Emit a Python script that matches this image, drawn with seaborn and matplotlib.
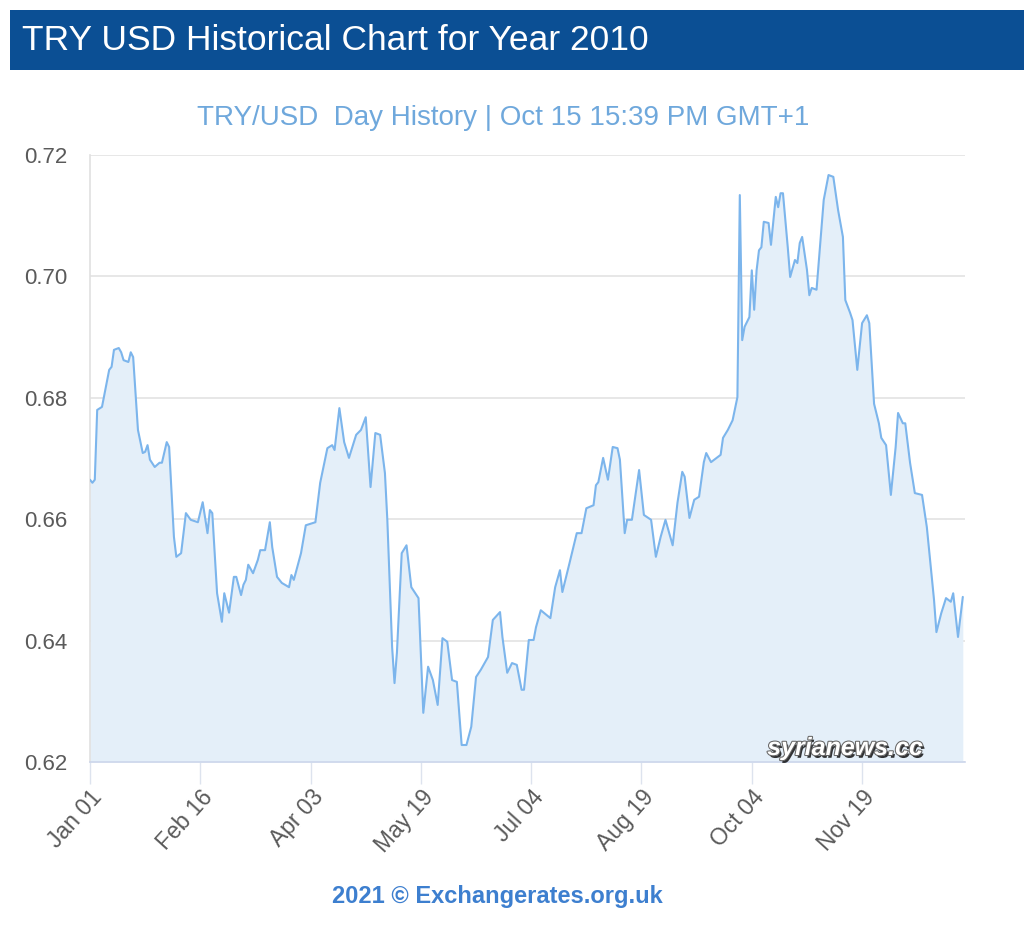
import matplotlib
matplotlib.use("Agg")
import matplotlib.pyplot as plt
import matplotlib.patheffects as pe
from matplotlib.patches import Rectangle
from matplotlib import font_manager
import seaborn as sns
import pandas as pd

# ---- data (day offset from 2010-01-01, TRY/USD rate) ----
day_offset = [0, 1, 2, 3, 5, 8, 9, 10, 12, 13, 14, 16, 17, 18, 20, 22, 23, 24, 25, 27,
              29, 30, 32, 33, 35, 36, 38, 40, 42, 45, 47, 49, 50, 51, 53, 55, 56, 58, 60, 61,
              63, 64, 65, 66, 68, 70, 71, 73, 75, 76, 78, 80, 83, 84, 85, 88, 90, 94, 96, 99,
              101, 102, 104, 106, 108, 111, 113, 115, 117, 119, 121, 123, 124, 126, 127, 128, 130, 132, 134, 137,
              139, 141, 143, 145, 147, 149, 151, 153, 155, 157, 159, 161, 163, 166, 168, 171, 172, 174, 176, 178,
              180, 181, 183, 185, 186, 188, 192, 194, 196, 197, 200, 203, 205, 207, 210, 211, 212, 214, 216, 218,
              220, 221, 223, 224, 226, 229, 231, 234, 236, 238, 240, 243, 245, 247, 248, 250, 252, 254, 256, 257,
              259, 263, 264, 266, 268, 270, 271, 272, 273, 275, 276, 277, 278, 279, 280, 281, 283, 284, 286, 287,
              288, 289, 291, 292, 294, 295, 296, 297, 299, 300, 301, 303, 304, 306, 308, 310, 312, 314, 315, 317,
              318, 320, 322, 324, 325, 327, 329, 330, 332, 334, 336, 337, 339, 340, 342, 344, 347, 349, 352, 353,
              355, 357, 359, 360, 362, 363, 364]
rate = [0.6665, 0.6660, 0.6665, 0.6780, 0.6785, 0.6846, 0.6851, 0.6879, 0.6882, 0.6875,
        0.6862, 0.6859, 0.6875, 0.6867, 0.6747, 0.6709, 0.6711, 0.6722, 0.6698, 0.6686,
        0.6693, 0.6693, 0.6727, 0.6719, 0.6571, 0.6538, 0.6544, 0.6610, 0.6599, 0.6595,
        0.6628, 0.6577, 0.6615, 0.6610, 0.6478, 0.6431, 0.6478, 0.6446, 0.6505, 0.6505,
        0.6475, 0.6492, 0.6500, 0.6525, 0.6511, 0.6533, 0.6549, 0.6549, 0.6595, 0.6554,
        0.6505, 0.6495, 0.6488, 0.6508, 0.6500, 0.6544, 0.6590, 0.6595, 0.6660, 0.6717,
        0.6722, 0.6714, 0.6783, 0.6727, 0.6701, 0.6739, 0.6747, 0.6768, 0.6653, 0.6742,
        0.6739, 0.6676, 0.6599, 0.6389, 0.6330, 0.6380, 0.6544, 0.6557, 0.6488, 0.6470,
        0.6281, 0.6357, 0.6335, 0.6294, 0.6404, 0.6398, 0.6335, 0.6332, 0.6228, 0.6228,
        0.6258, 0.6340, 0.6352, 0.6373, 0.6434, 0.6447, 0.6406, 0.6347, 0.6363, 0.6360,
        0.6319, 0.6319, 0.6401, 0.6401, 0.6422, 0.6450, 0.6437, 0.6488, 0.6516, 0.6480,
        0.6528, 0.6577, 0.6577, 0.6618, 0.6623, 0.6656, 0.6661, 0.6701, 0.6665, 0.6719,
        0.6717, 0.6698, 0.6577, 0.6599, 0.6599, 0.6681, 0.6607, 0.6599, 0.6538, 0.6571,
        0.6599, 0.6557, 0.6627, 0.6678, 0.6670, 0.6602, 0.6632, 0.6637, 0.6694, 0.6709,
        0.6694, 0.6706, 0.6734, 0.6747, 0.6763, 0.6801, 0.7134, 0.6895, 0.6917, 0.6933,
        0.7010, 0.6945, 0.7010, 0.7043, 0.7048, 0.7090, 0.7088, 0.7052, 0.7131, 0.7114,
        0.7137, 0.7137, 0.7048, 0.6999, 0.7027, 0.7022, 0.7055, 0.7065, 0.7011, 0.6969,
        0.6981, 0.6978, 0.7027, 0.7126, 0.7167, 0.7164, 0.7109, 0.7065, 0.6961, 0.6940,
        0.6928, 0.6846, 0.6923, 0.6936, 0.6923, 0.6790, 0.6758, 0.6734, 0.6722, 0.6640,
        0.6719, 0.6775, 0.6758, 0.6758, 0.6693, 0.6643, 0.6640, 0.6587, 0.6467, 0.6414,
        0.6445, 0.6470, 0.6464, 0.6478, 0.6406, 0.6439, 0.6472]
tick_labels = ["Jan 01", "Feb 16", "Apr 03", "May 19", "Jul 04", "Aug 19", "Oct 04", "Nov 19"]
y_ticks = [0.62, 0.64, 0.66, 0.68, 0.70, 0.72]

title = "TRY USD Historical Chart for Year 2010"
subtitle = "TRY/USD  Day History | Oct 15 15:39 PM GMT+1"
footer = "2021 \u00a9 Exchangerates.org.uk"
watermark = "syrianews.cc"

start = pd.Timestamp("2010-01-01")
df = pd.DataFrame({"date": [start + pd.Timedelta(days=d) for d in day_offset],
                   "rate": rate})
tick_dates = [pd.to_datetime(t + " 2010", format="%b %d %Y") for t in tick_labels]

sns.set_style("white")
plt.rcParams["font.family"] = ["Liberation Sans", "DejaVu Sans"]

available = {f.name for f in font_manager.fontManager.ttflist}
if "Liberation Sans Narrow" in available:
    title_family = ["Liberation Sans Narrow", "Liberation Sans"]
    title_size = 30.5
else:
    title_family = ["Liberation Sans", "DejaVu Sans"]
    title_size = 25.5

fig = plt.figure(figsize=(10.24, 9.34), dpi=100)
ax = fig.add_axes([90 / 1024, 1 - 762 / 934, 875 / 1024, 607 / 934])

line_color = "#7cb5ec"
ax.fill_between(df["date"], df["rate"], 0.62, color="#e4eff9", zorder=1, linewidth=0)
sns.lineplot(data=df, x="date", y="rate", ax=ax, color=line_color, linewidth=1.5, zorder=3)

ax.set_xlim(start, pd.Timestamp("2010-12-31 22:00"))
ax.set_ylim(0.62, 0.72)
ax.set_yticks(y_ticks)
ax.set_yticklabels([f"{v:.2f}" for v in y_ticks])
ax.set_xticks(tick_dates)
ax.set_xticklabels(tick_labels, rotation=48, ha="right", va="top", rotation_mode="anchor")
ax.set_xlabel("")
ax.set_ylabel("")
ax.grid(axis="y", color="#e3e3e3", linewidth=1.2, zorder=0)
ax.grid(axis="x", visible=False)
for s in ["top", "right"]:
    ax.spines[s].set_visible(False)
ax.spines["left"].set_color("#e0e0e0")
ax.spines["left"].set_linewidth(1.2)
ax.spines["bottom"].set_color("#ccd6eb")
ax.spines["bottom"].set_linewidth(1.2)
ax.tick_params(axis="x", length=16, width=1, color="#dde3ee", labelsize=16.5,
               labelcolor="#5a5a5a", pad=1, bottom=True)
ax.tick_params(axis="y", length=0, labelsize=16, labelcolor="#5a5a5a", pad=16)

# banner title
fig.patches.append(Rectangle((10 / 1024, 1 - 70 / 934), 1 - 10 / 1024, 60 / 934,
                             transform=fig.transFigure, facecolor="#0b4f94",
                             edgecolor="none", zorder=0))
fig.text(22 / 1024, 1 - 41 / 934, title, color="white", fontsize=title_size,
         family=title_family, ha="left", va="center")
fig.text(503 / 1024, 1 - 118 / 934, subtitle, color="#6fa8dc", fontsize=20,
         ha="center", va="center")
fig.text(497 / 1024, 1 - 897 / 934, footer, color="#3d7fcf", fontsize=17,
         fontweight="bold", ha="center", va="center")
fig.text(845 / 1024, 1 - 748 / 934, watermark, color="white", fontsize=18,
         fontweight="bold", fontstyle="italic", ha="center", va="center",
         path_effects=[pe.SimplePatchShadow(offset=(1.5, -2), shadow_rgbFace="#111111", alpha=0.85),
                       pe.Stroke(linewidth=1.5, foreground="#666666"),
                       pe.Normal()],
         zorder=10)

fig.savefig("out.png", dpi=100)
